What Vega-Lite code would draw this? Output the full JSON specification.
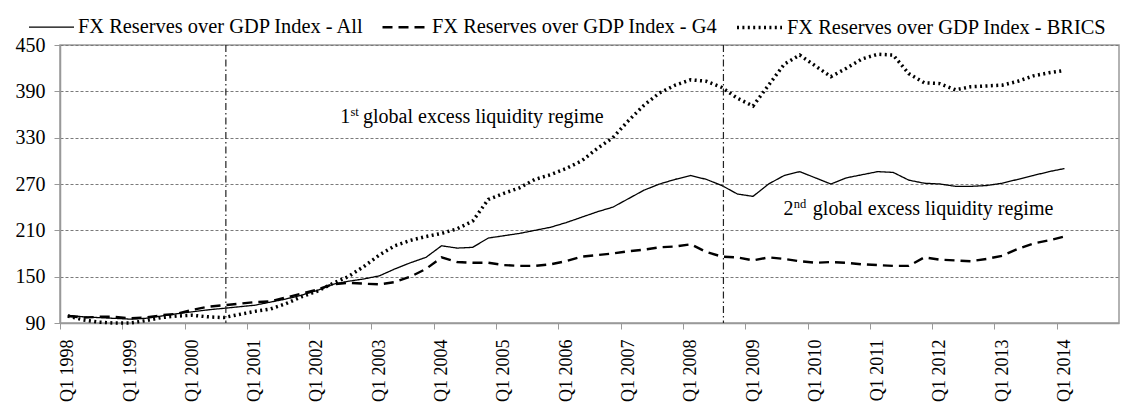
{
  "$schema": "https://vega.github.io/schema/vega-lite/v6.json",
  "width": 1059,
  "height": 278,
  "autosize": {"type": "none"},
  "padding": {"left": 60, "top": 45, "right": 3, "bottom": 83},
  "background": "white",
  "config": {
    "font": "Liberation Serif",
    "view": {"stroke": "#9a9a9a", "strokeWidth": 1.5}
  },
  "datasets": {
    "series": [
      {"t":0,"All":100,"G4":99,"BRICS":99},
      {"t":1,"All":98,"G4":97,"BRICS":94},
      {"t":2,"All":97,"G4":98,"BRICS":91},
      {"t":3,"All":96,"G4":98,"BRICS":90},
      {"t":4,"All":95,"G4":96,"BRICS":90},
      {"t":5,"All":96,"G4":97,"BRICS":93},
      {"t":6,"All":99,"G4":100,"BRICS":97},
      {"t":7,"All":102,"G4":102,"BRICS":99},
      {"t":8,"All":104.5,"G4":107,"BRICS":100},
      {"t":9,"All":107,"G4":111,"BRICS":98},
      {"t":10,"All":109,"G4":113,"BRICS":97},
      {"t":11,"All":111,"G4":115,"BRICS":101},
      {"t":12,"All":113,"G4":117,"BRICS":105},
      {"t":13,"All":117,"G4":118,"BRICS":108},
      {"t":14,"All":121,"G4":123,"BRICS":115},
      {"t":15,"All":126,"G4":128,"BRICS":124},
      {"t":16,"All":132,"G4":133,"BRICS":131},
      {"t":17,"All":140,"G4":140,"BRICS":141},
      {"t":18,"All":144,"G4":142,"BRICS":150},
      {"t":19,"All":147,"G4":141,"BRICS":163},
      {"t":20,"All":151,"G4":140,"BRICS":178},
      {"t":21,"All":160,"G4":143,"BRICS":190},
      {"t":22,"All":168,"G4":150,"BRICS":197},
      {"t":23,"All":175,"G4":160,"BRICS":202},
      {"t":24,"All":190,"G4":175,"BRICS":206},
      {"t":25,"All":187,"G4":169,"BRICS":212},
      {"t":26,"All":188,"G4":168,"BRICS":222},
      {"t":27,"All":200,"G4":168,"BRICS":250},
      {"t":28,"All":203,"G4":165,"BRICS":258},
      {"t":29,"All":206,"G4":164,"BRICS":265},
      {"t":30,"All":210,"G4":164,"BRICS":276},
      {"t":31,"All":214,"G4":166,"BRICS":282},
      {"t":32,"All":220,"G4":170,"BRICS":290},
      {"t":33,"All":227,"G4":176,"BRICS":300},
      {"t":34,"All":234,"G4":178,"BRICS":316},
      {"t":35,"All":240,"G4":180,"BRICS":330},
      {"t":36,"All":251,"G4":183,"BRICS":352},
      {"t":37,"All":262,"G4":185,"BRICS":372},
      {"t":38,"All":270,"G4":188,"BRICS":388},
      {"t":39,"All":276,"G4":189,"BRICS":398},
      {"t":40,"All":281,"G4":192,"BRICS":405},
      {"t":41,"All":276,"G4":182,"BRICS":403},
      {"t":42,"All":268,"G4":176,"BRICS":395},
      {"t":43,"All":257,"G4":175,"BRICS":381},
      {"t":44,"All":254,"G4":171,"BRICS":371},
      {"t":45,"All":270,"G4":175,"BRICS":398},
      {"t":46,"All":281,"G4":173,"BRICS":425},
      {"t":47,"All":286,"G4":170,"BRICS":437},
      {"t":48,"All":278,"G4":168,"BRICS":423},
      {"t":49,"All":270,"G4":169,"BRICS":409},
      {"t":50,"All":278,"G4":168,"BRICS":420},
      {"t":51,"All":282,"G4":166,"BRICS":432},
      {"t":52,"All":286,"G4":165,"BRICS":438},
      {"t":53,"All":285,"G4":164,"BRICS":437},
      {"t":54,"All":275,"G4":164,"BRICS":413},
      {"t":55,"All":271,"G4":175,"BRICS":401},
      {"t":56,"All":270,"G4":172,"BRICS":400},
      {"t":57,"All":267,"G4":171,"BRICS":392},
      {"t":58,"All":267,"G4":170,"BRICS":396},
      {"t":59,"All":268,"G4":173,"BRICS":397},
      {"t":60,"All":271,"G4":177,"BRICS":398},
      {"t":61,"All":276,"G4":186,"BRICS":403},
      {"t":62,"All":281,"G4":193,"BRICS":410},
      {"t":63,"All":286,"G4":197,"BRICS":414},
      {"t":64,"All":290,"G4":202,"BRICS":417}
    ],
    "regimes": [{"t": 10.15}, {"t": 42.1}],
    "notes": [
      {"t": 17.49, "value": 349.6, "text": "1"},
      {"t": 18.96, "value": 349.6, "text": "global excess liquidity regime"},
      {"t": 45.95, "value": 229.9, "text": "2"},
      {"t": 47.84, "value": 229.9, "text": "global excess liquidity regime"}
    ],
    "sups": [
      {"t": 18.15, "value": 349.6, "text": "st"},
      {"t": 46.62, "value": 229.9, "text": "nd"}
    ]
  },
  "layer": [
    {
      "data": {"name": "series"},
      "transform": [{"fold": ["All", "G4", "BRICS"], "as": ["series", "value"]}],
      "mark": {"type": "line", "color": "black"},
      "encoding": {
        "x": {
          "field": "t", "type": "quantitative",
          "scale": {"domain": [-0.5, 67.5], "nice": false, "zero": false},
          "axis": {
            "title": null,
            "values": [0,1,2,3,4,5,6,7,8,9,10,11,12,13,14,15,16,17,18,19,20,21,22,23,24,25,26,27,28,29,30,31,32,33,34,35,36,37,38,39,40,41,42,43,44,45,46,47,48,49,50,51,52,53,54,55,56,57,58,59,60,61,62,63,64,65,66,67],
            "tickOffset": -7.787,
            "labelOffset": 7.787,
            "labelExpr": "datum.value % 4 === 0 && datum.value <= 64 ? 'Q1 ' + (1998 + datum.value / 4) : ''",
            "labelAngle": -90,
            "labelFont": "Liberation Serif",
            "labelFontSize": 18,
            "labelColor": "#000",
            "labelPadding": 10,
            "labelOverlap": false,
            "labelBound": false,
            "labelFlush": false,
            "tickSize": 6,
            "tickColor": "#999",
            "domainColor": "#999",
            "domainWidth": 1.5,
            "grid": false
          }
        },
        "y": {
          "field": "value", "type": "quantitative",
          "scale": {"domain": [90, 450], "nice": false, "zero": false},
          "axis": {
            "title": null,
            "values": [90, 150, 210, 270, 330, 390, 450],
            "labelFont": "Liberation Serif",
            "labelFontSize": 20,
            "labelColor": "#000",
            "labelPadding": 9,
            "tickSize": 6,
            "tickColor": "#999",
            "domainColor": "#999",
            "domainWidth": 1.5,
            "grid": true,
            "gridColor": "#7a7a7a",
            "gridDash": [3, 2],
            "gridWidth": 1
          }
        },
        "strokeDash": {
          "field": "series", "type": "nominal",
          "scale": {"domain": ["All", "G4", "BRICS"], "range": [[1, 0], [10, 6], [2, 3.4]]},
          "legend": {
            "orient": "none", "legendX": -32, "legendY": -42,
            "direction": "horizontal", "title": null,
            "symbolType": "stroke", "symbolSize": 2025,
            "symbolStrokeColor": "black",
            "labelFont": "Liberation Serif", "labelFontSize": 20.4, "labelColor": "#000",
            "labelLimit": 400,
            "labelOffset": 3, "columnPadding": 12,
            "labelExpr": "'FX Reserves over GDP Index - ' + datum.label"
          }
        },
        "strokeWidth": {
          "field": "series", "type": "nominal",
          "scale": {"domain": ["All", "G4", "BRICS"], "range": [1.3, 3.5, 2.3]},
          "legend": {
            "orient": "none", "legendX": -32, "legendY": -42,
            "direction": "horizontal", "title": null,
            "symbolType": "stroke", "symbolSize": 2025,
            "symbolStrokeColor": "black",
            "labelFont": "Liberation Serif", "labelFontSize": 20.4, "labelColor": "#000",
            "labelLimit": 400,
            "labelOffset": 3, "columnPadding": 12,
            "labelExpr": "'FX Reserves over GDP Index - ' + datum.label"
          }
        }
      }
    },
    {
      "data": {"name": "regimes"},
      "mark": {"type": "rule", "color": "#222", "strokeWidth": 1.2, "strokeDash": [7, 3, 1.5, 3]},
      "encoding": {"x": {"field": "t", "type": "quantitative"}}
    },
    {
      "data": {"name": "notes"},
      "mark": {"type": "text", "align": "left", "baseline": "alphabetic", "font": "Liberation Serif", "fontSize": 20, "color": "#000"},
      "encoding": {
        "x": {"field": "t", "type": "quantitative"},
        "y": {"field": "value", "type": "quantitative"},
        "text": {"field": "text"}
      }
    },
    {
      "data": {"name": "sups"},
      "mark": {"type": "text", "align": "left", "baseline": "alphabetic", "font": "Liberation Serif", "fontSize": 12.5, "dy": -7, "color": "#000"},
      "encoding": {
        "x": {"field": "t", "type": "quantitative"},
        "y": {"field": "value", "type": "quantitative"},
        "text": {"field": "text"}
      }
    }
  ]
}
